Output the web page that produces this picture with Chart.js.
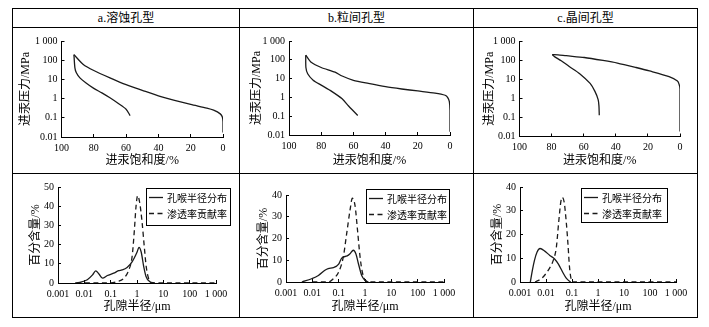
<!DOCTYPE html>
<html>
<head>
<meta charset="utf-8">
<title>孔隙类型</title>
<script src="https://cdn.jsdelivr.net/npm/chart.js@4.4.1/dist/chart.umd.min.js"></script>
<style>
    body {
        margin: 0;
        width: 709px;
        height: 327px;
        position: relative;
        overflow: hidden;
        background: #fff;
        font-family: "Liberation Serif", "Noto Sans CJK SC", serif;
    }
    .frame {
        position: absolute;
        left: 12px; top: 8px;
        width: 686px; height: 310px;
        border: 1px solid #000;
        box-sizing: border-box;
    }
    .line { position: absolute; background: #000; }
    .head {
        position: absolute;
        top: 9px; height: 18px;
        line-height: 19px;
        text-align: center;
        font-size: 12px;
        color: #000;
    }
    canvas { position: absolute; }
</style>
</head>
<body>
<div class="frame"></div>
<div class="line" style="left:12px; top:27px; width:686px; height:1px;"></div>
<div class="line" style="left:12px; top:173px; width:686px; height:1px;"></div>
<div class="line" style="left:239px; top:8px; width:1px; height:310px;"></div>
<div class="line" style="left:473px; top:8px; width:1px; height:310px;"></div>
<div class="head" id="headA" style="left:13px; width:226px;"></div>
<div class="head" id="headB" style="left:240px; width:233px;"></div>
<div class="head" id="headC" style="left:474px; width:223px;"></div>

<canvas id="capA"></canvas>
<canvas id="capB"></canvas>
<canvas id="capC"></canvas>
<canvas id="poreA"></canvas>
<canvas id="poreB"></canvas>
<canvas id="poreC"></canvas>

<script>
// ---------- 文字 ----------
const panelTitles = ['a.溶蚀孔型', 'b.粒间孔型', 'c.晶间孔型'];
const seriesNames = ['孔喉半径分布', '渗透率贡献率'];
const capXTitle = '进汞饱和度/%';
const capYTitle = '进汞压力/MPa';
const poreXTitle = '孔隙半径/μm';
const poreYTitle = '百分含量/%';

// ---------- 刻度 ----------
const satTicks = [0, 20, 40, 60, 80, 100];
const satTickLabels = ['0', '20', '40', '60', '80', '100'];
const pressureTicks = [0.01, 0.1, 1, 10, 100, 1000];
const pressureTickLabels = ['0.01', '0.1', '1', '10', '100', '1 000'];
const radiusTicks = [0.001, 0.01, 0.1, 1, 10, 100, 1000];
const radiusTickLabels = ['0.001', '0.01', '0.1', '1', '10', '100', '1 000'];
const percentTicksA = [0, 10, 20, 30, 40, 50];
const percentTicksBC = [0, 10, 20, 30, 40];

// ---------- 毛管压力曲线 (饱和度 %, 压力 MPa) ----------
// a.溶蚀孔型
const aInjSat = [0, 0, 0.4, 1.7, 5.8, 10, 20, 30, 40, 50, 60, 70, 80, 86.5, 92.3];
const aInjP = [0.017, 0.06, 0.11, 0.16, 0.25, 0.32, 0.5, 0.82, 1.4, 2.7, 5.3, 12, 29, 60, 195];
const aWdSat = [92.3, 91.7, 90.8, 88.6, 85, 80, 75, 70, 65, 60, 57.5];
const aWdP = [195, 40, 22, 12, 6.7, 3.4, 2.0, 1.1, 0.57, 0.28, 0.13];
// b.粒间孔型
const bInjSat = [0, 0, 0.4, 1.5, 3, 9.3, 20, 30, 40, 50.7, 60, 67, 71.4, 80, 86, 89.6];
const bInjP = [0.015, 0.2, 0.6, 1.0, 1.3, 1.7, 2.2, 2.8, 3.7, 5.5, 8.1, 13.7, 22, 39, 71, 177];
const bWdSat = [89.6, 89.5, 88.4, 85, 80, 73.5, 67, 63, 60, 57.3];
const bWdP = [177, 39, 18, 8.2, 4.5, 2.1, 0.84, 0.35, 0.19, 0.11];
// c.晶间孔型
const cInjSat = [0, 0, 0.5, 1.6, 6.8, 19, 27.4, 39, 48, 59.6, 70.9, 76, 79.6];
const cInjP = [0.018, 3, 5.2, 8, 13.6, 27, 41, 70, 96, 137, 170, 190, 195];
const cWdSat = [79.6, 78, 74, 69, 62.5, 56, 53, 51, 50.5, 50.3];
const cWdP = [195, 148, 93, 46, 19.5, 6, 2.3, 0.86, 0.4, 0.13];

// ---------- 孔喉半径分布 / 渗透率贡献率 (半径 μm, %) ----------
const aDistR = [0.0045, 0.0065, 0.013, 0.0205, 0.027, 0.036, 0.049, 0.075, 0.13, 0.2, 0.27, 0.42, 0.65, 1, 1.19, 1.45, 1.8, 2.2, 3, 4.6];
const aDistV = [0, 0.3, 1.7, 4.2, 6.3, 4.7, 2.5, 3.9, 5.1, 6.4, 6.8, 8.1, 11, 16, 18.6, 16, 8.5, 3.4, 0.8, 0];
const aPermR = [0.005, 0.1, 0.18, 0.32, 0.49, 0.65, 0.79, 0.92, 1.06, 1.26, 1.55, 1.9, 2.24, 2.74, 3.6, 1000];
const aPermV = [0, 0.1, 0.8, 2.5, 6.8, 13.6, 27, 40, 45.5, 42, 32, 18.6, 8.5, 2.5, 0, 0];

const bDistR = [0.004, 0.0094, 0.017, 0.03, 0.04, 0.063, 0.1, 0.13, 0.21, 0.27, 0.36, 0.45, 0.56, 0.75, 1, 1.34];
const bDistV = [0, 1.5, 3, 5.4, 6.2, 6.6, 8.2, 11, 12, 13, 14.6, 13, 8.5, 3, 0.8, 0];
const bPermR = [0.01, 0.04, 0.063, 0.1, 0.15, 0.2, 0.27, 0.33, 0.42, 0.52, 0.65, 0.79, 1, 1.4, 1000];
const bPermV = [0, 0, 1.5, 4.6, 11.5, 22, 33, 38.5, 35, 23.8, 11.5, 4.6, 0.8, 0, 0];

const cDistR = [0.0025, 0.003, 0.0036, 0.0045, 0.0059, 0.0092, 0.014, 0.021, 0.03, 0.045, 0.06, 0.08, 0.09];
const cDistV = [0, 5, 9.1, 12.5, 14.1, 12.9, 11.2, 9.8, 7.5, 3.9, 1.6, 0.3, 0];
const cPermR = [0.0038, 0.0069, 0.0123, 0.019, 0.025, 0.031, 0.037, 0.042, 0.05, 0.06, 0.07, 0.08, 0.093, 0.1, 1000];
const cPermV = [0, 1.6, 5, 9.1, 14.6, 25.6, 33.6, 35.6, 33.6, 25.4, 15.9, 6.4, 1, 0, 0];

// ---------- 样式 ----------
const LINE_COLOR = '#1a1a1a';
const DASH = [5, 3.5];
const TICK_FONT = { family: '"Liberation Serif", serif', size: 10 };
const TITLE_FONT = { family: '"Liberation Serif", "Noto Sans CJK SC", serif', size: 12, lineHeight: 1.2 };
const TITLE_LH = 12 * 1.2;

function zip(xs, ys) {
    return xs.map((x, i) => ({ x: x, y: ys[i] }));
}

/**
 * 图例方框 (画在绘图区内右上角)
 */
const boxLegend = {
    id: 'boxLegend',
    afterDatasetsDraw(chart, args, opts) {
        const box = opts && opts.box;
        if (!box) return;
        const ctx = chart.ctx;
        ctx.save();
        ctx.fillStyle = '#fff';
        ctx.fillRect(box.x, box.y, box.w, box.h);
        ctx.strokeStyle = '#000';
        ctx.lineWidth = 1;
        ctx.strokeRect(box.x + 0.5, box.y + 0.5, box.w, box.h);
        ctx.font = '10px "Noto Sans CJK SC", sans-serif';
        ctx.textBaseline = 'middle';
        ctx.textAlign = 'left';
        chart.data.datasets.forEach((ds, i) => {
            const y = box.y + 9.5 + i * 16;
            ctx.beginPath();
            ctx.setLineDash(ds.borderDash || []);
            ctx.strokeStyle = ds.borderColor;
            ctx.lineWidth = ds.borderWidth;
            ctx.moveTo(box.x + 3, y);
            ctx.lineTo(box.x + 17, y);
            ctx.stroke();
            ctx.setLineDash([]);
            ctx.fillStyle = '#000';
            ctx.fillText(ds.label, box.x + 21, y + 0.5);
        });
        ctx.restore();
    }
};

/**
 * 坐标轴: 固定刻度 + 固定宽/高, 刻度线朝内
 */
function makeAxis(cfg, vertical) {
    return {
        type: cfg.type,
        min: cfg.min,
        max: cfg.max,
        reverse: !!cfg.reverse,
        border: { display: true, color: '#000', width: 1 },
        grid: { display: true, drawOnChartArea: false, drawTicks: true, tickLength: -3, color: '#000' },
        ticks: {
            color: '#000',
            font: TICK_FONT,
            padding: vertical ? 7 : 8,
            autoSkip: false,
            maxRotation: 0,
            callback: (v, i) => cfg.labels[i]
        },
        title: { display: true, text: cfg.title, color: '#000', font: TITLE_FONT, padding: 0 },
        afterBuildTicks: scale => {
            scale.ticks = cfg.values.map(v => ({ value: v }));
        },
        afterFit: scale => {
            if (cfg.width !== undefined) scale.width = cfg.width;
            if (cfg.height !== undefined) scale.height = cfg.height;
        }
    };
}

/**
 * 根据单元格和绘图区位置建立图表
 */
function buildChart(spec) {
    const canvas = document.getElementById(spec.id);
    const c = spec.cell;
    canvas.width = c.w;
    canvas.height = c.h;
    canvas.style.left = c.x + 'px';
    canvas.style.top = c.y + 'px';

    const half = TITLE_LH / 2;
    const padLeft = spec.yTitleX - half - c.x;
    const yWidth = spec.area.l - (spec.yTitleX - half);
    const xHeight = spec.xTitleY + half - spec.area.b;
    const padBottom = c.y + c.h - (spec.xTitleY + half);
    const padTop = spec.area.t - c.y;
    const padRight = c.x + c.w - spec.area.r;

    const xAxis = Object.assign({}, spec.x, { height: xHeight });
    const yAxis = Object.assign({}, spec.y, { width: yWidth });

    const lg = spec.legend;
    const legendBox = lg ? { x: lg.x - c.x, y: lg.y - c.y, w: lg.w, h: lg.h } : null;

    return new Chart(canvas.getContext('2d'), {
        type: 'scatter',
        data: { datasets: spec.datasets },
        options: {
            responsive: false,
            animation: false,
            events: [],
            layout: {
                autoPadding: false,
                padding: { left: padLeft, right: padRight, top: padTop, bottom: padBottom }
            },
            elements: { point: { radius: 0 } },
            plugins: {
                legend: { display: false },
                tooltip: { enabled: false },
                boxLegend: { box: legendBox }
            },
            scales: {
                x: makeAxis(xAxis, false),
                y: makeAxis(yAxis, true)
            }
        },
        plugins: [boxLegend]
    });
}

function capDatasets(injSat, injP, wdSat, wdP) {
    const base = { showLine: true, borderColor: LINE_COLOR, borderWidth: 1.3, tension: 0.25, pointRadius: 0, fill: false };
    return [
        Object.assign({ label: '进汞', data: zip(injSat, injP) }, base),
        Object.assign({ label: '退汞', data: zip(wdSat, wdP) }, base)
    ];
}

function poreDatasets(distR, distV, permR, permV) {
    const base = { showLine: true, borderColor: LINE_COLOR, borderWidth: 1.3, cubicInterpolationMode: 'monotone', pointRadius: 0, fill: false };
    return [
        Object.assign({ label: seriesNames[0], data: zip(distR, distV) }, base),
        Object.assign({ label: seriesNames[1], data: zip(permR, permV), borderDash: DASH }, base)
    ];
}

const capX = { type: 'linear', min: 0, max: 100, reverse: true, values: satTicks, labels: satTickLabels, title: capXTitle };
const capY = { type: 'logarithmic', min: 0.01, max: 1000, values: pressureTicks, labels: pressureTickLabels, title: capYTitle };
const poreX = { type: 'logarithmic', min: 0.001, max: 1000, values: radiusTicks, labels: radiusTickLabels, title: poreXTitle };
const poreYA = { type: 'linear', min: 0, max: 50, values: percentTicksA, labels: percentTicksA.map(String), title: poreYTitle };
const poreYBC = { type: 'linear', min: 0, max: 40, values: percentTicksBC, labels: percentTicksBC.map(String), title: poreYTitle };

function initPage() {
    document.getElementById('headA').textContent = panelTitles[0];
    document.getElementById('headB').textContent = panelTitles[1];
    document.getElementById('headC').textContent = panelTitles[2];

    // 上排: 毛管压力曲线
    buildChart({
        id: 'capA', cell: { x: 13, y: 28, w: 226, h: 145 },
        area: { l: 61.5, r: 223, t: 40, b: 137 }, yTitleX: 26, xTitleY: 161,
        x: capX, y: capY, datasets: capDatasets(aInjSat, aInjP, aWdSat, aWdP)
    });
    buildChart({
        id: 'capB', cell: { x: 240, y: 28, w: 233, h: 145 },
        area: { l: 289, r: 450, t: 38, b: 135 }, yTitleX: 257, xTitleY: 161,
        x: capX, y: capY, datasets: capDatasets(bInjSat, bInjP, bWdSat, bWdP)
    });
    buildChart({
        id: 'capC', cell: { x: 474, y: 28, w: 223, h: 145 },
        area: { l: 519.5, r: 680, t: 38.5, b: 136.5 }, yTitleX: 490, xTitleY: 161,
        x: capX, y: capY, datasets: capDatasets(cInjSat, cInjP, cWdSat, cWdP)
    });

    // 下排: 孔喉半径分布
    buildChart({
        id: 'poreA', cell: { x: 13, y: 174, w: 226, h: 143 },
        area: { l: 58, r: 216, t: 186, b: 283 }, yTitleX: 36, xTitleY: 307,
        x: poreX, y: poreYA, datasets: poreDatasets(aDistR, aDistV, aPermR, aPermV),
        legend: { x: 146, y: 188, w: 84, h: 37 }
    });
    buildChart({
        id: 'poreB', cell: { x: 240, y: 174, w: 233, h: 143 },
        area: { l: 286, r: 444, t: 195, b: 282 }, yTitleX: 264, xTitleY: 307,
        x: poreX, y: poreYBC, datasets: poreDatasets(bDistR, bDistV, bPermR, bPermV),
        legend: { x: 366, y: 189, w: 83, h: 34 }
    });
    buildChart({
        id: 'poreC', cell: { x: 474, y: 174, w: 223, h: 143 },
        area: { l: 520, r: 676, t: 184, b: 282 }, yTitleX: 498, xTitleY: 307,
        x: poreX, y: poreYBC, datasets: poreDatasets(cDistR, cDistV, cPermR, cPermV),
        legend: { x: 581, y: 188, w: 86, h: 34 }
    });
}

if (document.readyState === 'loading') {
    document.addEventListener('DOMContentLoaded', initPage);
} else {
    initPage();
}
</script>
</body>
</html>
